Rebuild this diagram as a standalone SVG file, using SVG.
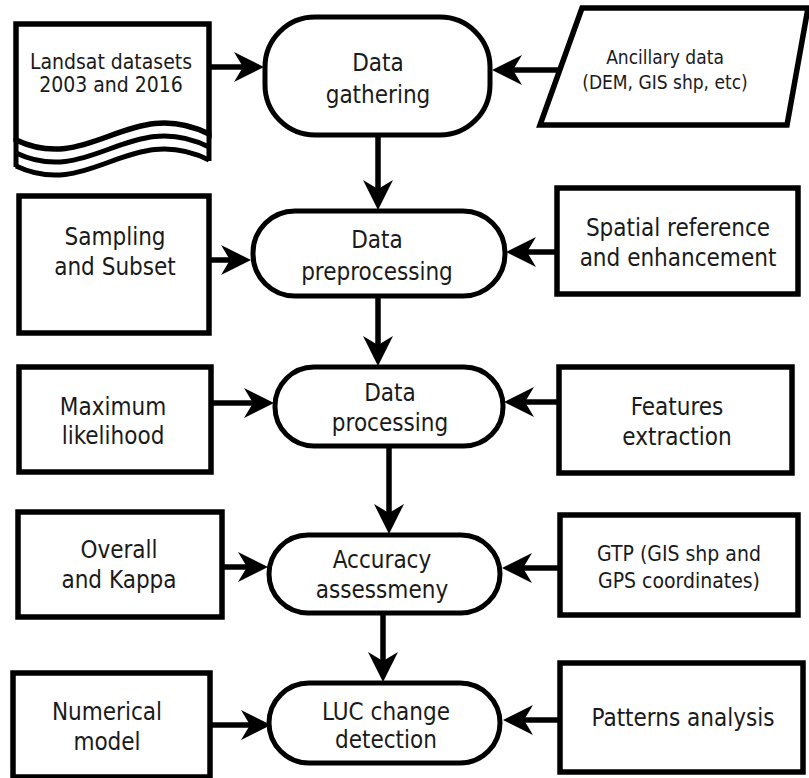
<svg xmlns="http://www.w3.org/2000/svg" width="809" height="778" viewBox="0 0 809 778">
<defs>
<style>
.box{fill:#fff;stroke:#000;stroke-width:5.5}
.term{fill:#fff;stroke:#000;stroke-width:5}
.wave{fill:none;stroke:#000;stroke-width:5}
.con line{stroke:#000;stroke-width:5.5;marker-end:url(#ah)}
text{font-family:"DejaVu Sans Condensed","DejaVu Sans",sans-serif;font-stretch:condensed;font-size:24px;fill:#1a1a1a;text-anchor:middle}
.sm{font-size:19px}
.md{font-size:21px}
.gt{font-size:21px}
</style>
<marker id="ah" markerUnits="userSpaceOnUse" markerWidth="34" markerHeight="34" viewBox="-32 -17 34 34" refX="-10" refY="0" orient="auto">
<path d="M0,0 L-30,-15 L-21,0 L-30,15 Z" fill="#000"/>
</marker>
</defs>
<rect width="809" height="778" fill="#fff"/>

<g class="con">
<line x1="209" y1="67" x2="254" y2="67"/>
<line x1="560" y1="70" x2="502" y2="70"/>
<line x1="378" y1="135" x2="378" y2="200"/>
<line x1="209" y1="260" x2="241" y2="260"/>
<line x1="557" y1="252" x2="516" y2="252"/>
<line x1="378" y1="296" x2="378" y2="356"/>
<line x1="211" y1="403" x2="264" y2="403"/>
<line x1="559" y1="402" x2="514" y2="402"/>
<line x1="389" y1="446" x2="389" y2="524"/>
<line x1="222" y1="567" x2="258" y2="567"/>
<line x1="560" y1="568" x2="512" y2="568"/>
<line x1="383" y1="613" x2="383" y2="672"/>
<line x1="210" y1="725" x2="261" y2="725"/>
<line x1="560" y1="720" x2="513" y2="720"/>
</g>

<g id="landsat">
<path class="box" d="M16,24 H209 V134 C130,95 90,175 16,140 Z"/>
<path class="wave" d="M16,153 C90,188 130,108 209,147"/>
<path class="wave" d="M16,166 C90,201 130,121 209,160"/>
<path class="wave" d="M16,138 V167 M209,132 V161"/>
<text class="md" x="111" y="69">Landsat datasets</text>
<text class="md" x="111" y="92">2003 and 2016</text>
</g>

<g id="gathering">
<rect class="term" x="265" y="17" width="225" height="118" rx="50"/>
<text x="378" y="71">Data</text>
<text x="378" y="103">gathering</text>
</g>

<g id="ancillary">
<polygon class="box" points="582,8 808,8 787,125 540,125"/>
<text class="sm" x="665" y="64">Ancillary data</text>
<text class="sm" x="665" y="89">(DEM, GIS shp, etc)</text>
</g>

<g id="sampling">
<rect class="box" x="19" y="196" width="190" height="137"/>
<text x="115" y="245">Sampling</text>
<text x="115" y="275">and Subset</text>
</g>

<g id="preprocessing">
<rect class="term" x="253" y="211" width="252" height="85" rx="42"/>
<text x="377" y="248">Data</text>
<text x="377" y="280">preprocessing</text>
</g>

<g id="spatial">
<rect class="box" x="557" y="188" width="241" height="106"/>
<text x="678" y="236">Spatial reference</text>
<text x="678" y="266">and enhancement</text>
</g>

<g id="maxlik">
<rect class="box" x="19" y="367" width="192" height="105"/>
<text x="113" y="415">Maximum</text>
<text x="113" y="444">likelihood</text>
</g>

<g id="processing">
<rect class="term" x="275" y="367" width="228" height="79" rx="39"/>
<text x="390" y="401">Data</text>
<text x="390" y="431">processing</text>
</g>

<g id="features">
<rect class="box" x="559" y="367" width="233" height="106"/>
<text x="677" y="415">Features</text>
<text x="677" y="445">extraction</text>
</g>

<g id="overall">
<rect class="box" x="18" y="512" width="204" height="105"/>
<text x="119" y="558">Overall</text>
<text x="119" y="588">and Kappa</text>
</g>

<g id="accuracy">
<rect class="term" x="269" y="535" width="231" height="78" rx="39"/>
<text x="382" y="568">Accuracy</text>
<text x="382" y="598">assessmeny</text>
</g>

<g id="gtp">
<rect class="box" x="560" y="515" width="238" height="100"/>
<text class="gt" x="679" y="561">GTP (GIS shp and</text>
<text class="gt" x="679" y="588">GPS coordinates)</text>
</g>

<g id="numerical">
<rect class="box" x="13" y="673" width="197" height="104"/>
<text x="107" y="720">Numerical</text>
<text x="107" y="750">model</text>
</g>

<g id="luc">
<rect class="term" x="269" y="683" width="231" height="80" rx="40"/>
<text x="386" y="720">LUC change</text>
<text x="386" y="748">detection</text>
</g>

<g id="patterns">
<rect class="box" x="560" y="663" width="243" height="109"/>
<text x="683" y="726">Patterns analysis</text>
</g>
</svg>
